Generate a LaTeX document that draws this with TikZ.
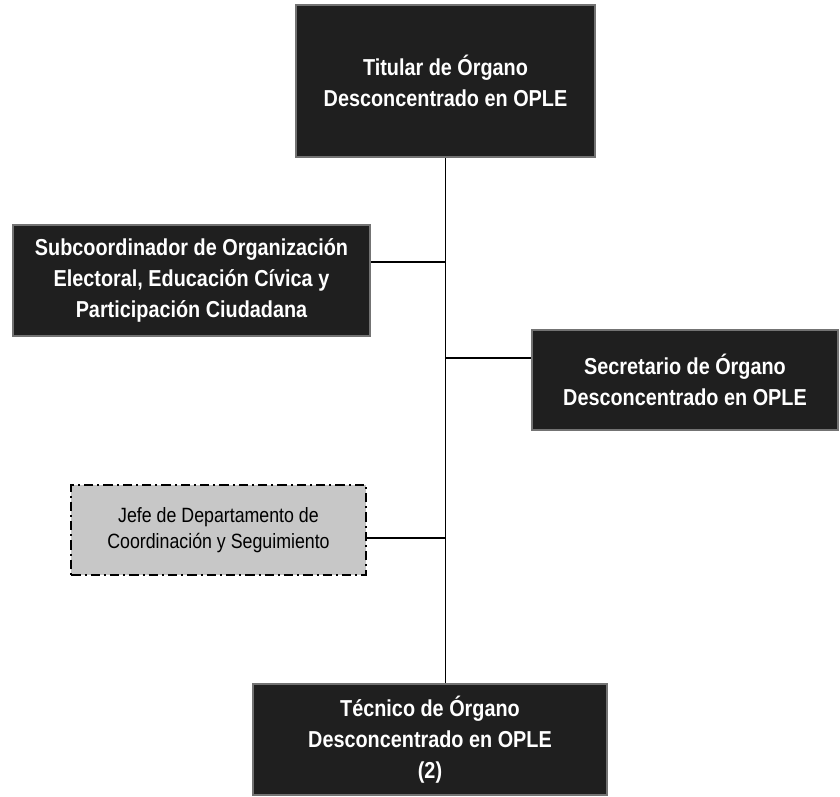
\documentclass[tikz,border=0pt]{standalone}
\usepackage{fontspec}
\setmainfont{Liberation Sans}
\newfontfamily\boxfont{Liberation Sans}[FakeStretch=0.86]
\usetikzlibrary{positioning}
\tikzset{post/.style={rectangle, draw=black!55, line width=1.5pt, fill=black!88,
      text=white, font=\boxfont\bfseries\fontsize{17.3}{23}\selectfont,
      align=center, inner sep=0pt}}
\tikzset{staff/.style={rectangle, draw=black, line width=1.6pt,
      dash pattern=on 7pt off 3pt on 1.5pt off 3pt, fill=black!22,
      font=\boxfont\fontsize{15.5}{19.5}\selectfont, align=center, inner sep=0pt}}
\tikzset{link/.style={line width=0.9pt}}

\begin{document}
\begin{tikzpicture}[x=0.75pt, y=-0.75pt]
		\useasboundingbox (0,0) rectangle (840,797);
		\node[post, minimum width=224pt, minimum height=114pt] (top) at (445.5,81) {Titular de Órgano\\Desconcentrado en OPLE};
		\node[post, minimum width=268pt, minimum height=83pt] (sub) at (191.5,280.5) {Subcoordinador de Organización\\Electoral, Educación Cívica y\\Participación Ciudadana};
		\node[post, minimum width=229.5pt, minimum height=75pt] (sec) at (685,380) {Secretario de Órgano\\Desconcentrado en OPLE};
		\node[staff, minimum width=221pt, minimum height=67.5pt] (jefe) at (218.5,530) {Jefe de Departamento de\\Coordinación y Seguimiento};
		\node[post, minimum width=265.5pt, minimum height=83pt] (tec) at (430,739.5) {Técnico de Órgano\\Desconcentrado en OPLE\\(2)};
		% tronco y ramas
		\coordinate (jSub) at (445.5,262);
		\coordinate (jSec) at (445.5,358);
		\coordinate (jJefe) at (445.5,538);
		\draw[link] (top.south) -- (top.south |- tec.north);
		\draw[link] (sub.east |- jSub) -- (jSub);
		\draw[link] (jSec) -- (sec.west |- jSec);
		\draw[link] (jefe.east |- jJefe) -- (jJefe);
\end{tikzpicture}
\end{document}
